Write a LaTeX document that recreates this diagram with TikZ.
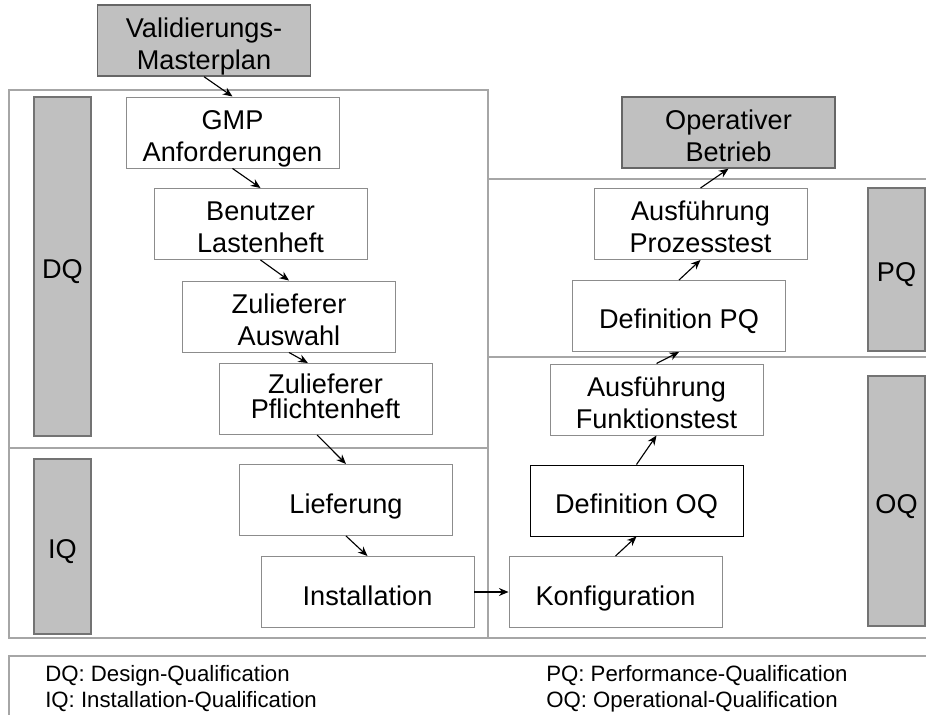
\documentclass[tikz,border=0pt]{standalone}
\usepackage{fontspec}
\setmainfont{Liberation Sans}
\usetikzlibrary{arrows.meta,positioning,calc}
\definecolor{barfill}{RGB}{192,192,192}
\definecolor{framegray}{RGB}{166,166,166}

\begin{document}
\begin{tikzpicture}[
  >={Stealth[length=2.4mm,width=2mm]},
  stepbox/.style={draw=black!45,fill=white,line width=0.7pt,font=\fontsize{19.3}{23}\selectfont,
    align=center,minimum width=5.325cm,minimum height=1.775cm,inner sep=0pt,text depth=0pt},
  oneline/.style={text height=0.65cm},
  twoline/.style={text height=1.45cm},
  keybox/.style={stepbox,twoline,fill=barfill,draw=black!60,line width=1pt},
  phase/.style={draw=black!55,fill=barfill,line width=1.2pt,font=\fontsize{19.3}{23}\selectfont,
    minimum width=1.425cm,inner sep=0pt,text height=0.6cm,text depth=0pt},
  frame/.style={draw=framegray,line width=0.9pt},
  flow/.style={->,line width=0.8pt},
  legend/.style={anchor=west,inner sep=0pt,font=\fontsize{15.8}{18}\selectfont}]
  \useasboundingbox (0,0) rectangle (23.15,-17.875);
  % panels
  \draw[frame] (0.225,-2.25) rectangle (12.2,-15.95);
  \draw[frame] (0.225,-11.2) -- (12.2,-11.2);
  \draw[frame] (12.2,-4.475) -- (23.15,-4.475);
  \draw[frame] (12.2,-8.925) -- (23.15,-8.925);
  \draw[frame] (12.2,-15.95) -- (23.15,-15.95);
  \draw[frame] (23.15,-16.4) -- (0.225,-16.4) -- (0.225,-17.875);
  % phase bars
  \node[phase,minimum height=8.475cm] (dq) at (1.5625,-6.6625) {DQ};
  \node[phase,minimum height=4.375cm] (iq) at (1.5625,-13.6625) {IQ};
  \node[phase,minimum height=4.075cm] (pq) at (22.4125,-6.7375) {PQ};
  \node[phase,minimum height=6.25cm] (oq) at (22.4125,-12.525) {OQ};
  % steps
  \node[keybox] (vmp) at (5.1,-1.0125) {Validierungs-\\Masterplan};
  \node[stepbox,twoline] (gmp) at (5.8125,-3.3125) {GMP\\Anforderungen};
  \node[stepbox,twoline] (lasten) at (6.5125,-5.6) {Benutzer\\Lastenheft};
  \node[stepbox,twoline] (auswahl) at (7.225,-7.9125) {Zulieferer\\Auswahl};
  \node[stepbox,text height=0.95cm,font=\fontsize{19.3}{17.5}\selectfont] (pflicht) at (8.1375,-9.975) {Zulieferer\\Pflichtenheft};
  \node[stepbox,oneline] (liefer) at (8.65,-12.5) {Lieferung};
  \node[stepbox,oneline] (install) at (9.1875,-14.8) {Installation};
  \node[stepbox,oneline] (konfig) at (15.3875,-14.8) {Konfiguration};
  \node[stepbox,oneline,draw=black] (defoq) at (15.9125,-12.5125) {Definition OQ};
  \node[stepbox,twoline] (funktest) at (16.4125,-9.9875) {Ausführung\\Funktionstest};
  \node[stepbox,oneline] (defpq) at (16.975,-7.9) {Definition PQ};
  \node[stepbox,twoline] (prozess) at (17.5125,-5.6) {Ausführung\\Prozesstest};
  \node[keybox] (betrieb) at (18.2125,-3.3125) {Operativer\\Betrieb};
  % arrows
  \draw[flow] (vmp.south) -- (gmp.north);
  \draw[flow] (gmp.south) -- (lasten.north);
  \draw[flow] (lasten.south) -- (auswahl.north);
  \draw[flow] (auswahl.south) -- ([xshift=-0.44cm]pflicht.north);
  \draw[flow] ([xshift=-0.21cm]pflicht.south) -- (liefer.north);
  \draw[flow] (liefer.south) -- (install.north);
  \draw[flow] (install.east) -- (konfig.west);
  \draw[flow] (konfig.north) -- (defoq.south);
  \draw[flow] (defoq.north) -- (funktest.south);
  \draw[flow] (funktest.north) -- (defpq.south);
  \draw[flow] (defpq.north) -- (prozess.south);
  \draw[flow] (prozess.north) -- (betrieb.south);
  % legend
  \node[legend] (ldq) at (1.125,-16.9) {DQ: Design-Qualification};
  \node[legend] (liq) at (1.125,-17.55) {IQ: Installation-Qualification};
  \node[legend] (lpq) at (13.65,-16.9) {PQ: Performance-Qualification};
  \node[legend] (loq) at (13.65,-17.55) {OQ: Operational-Qualification};
\end{tikzpicture}
\end{document}
